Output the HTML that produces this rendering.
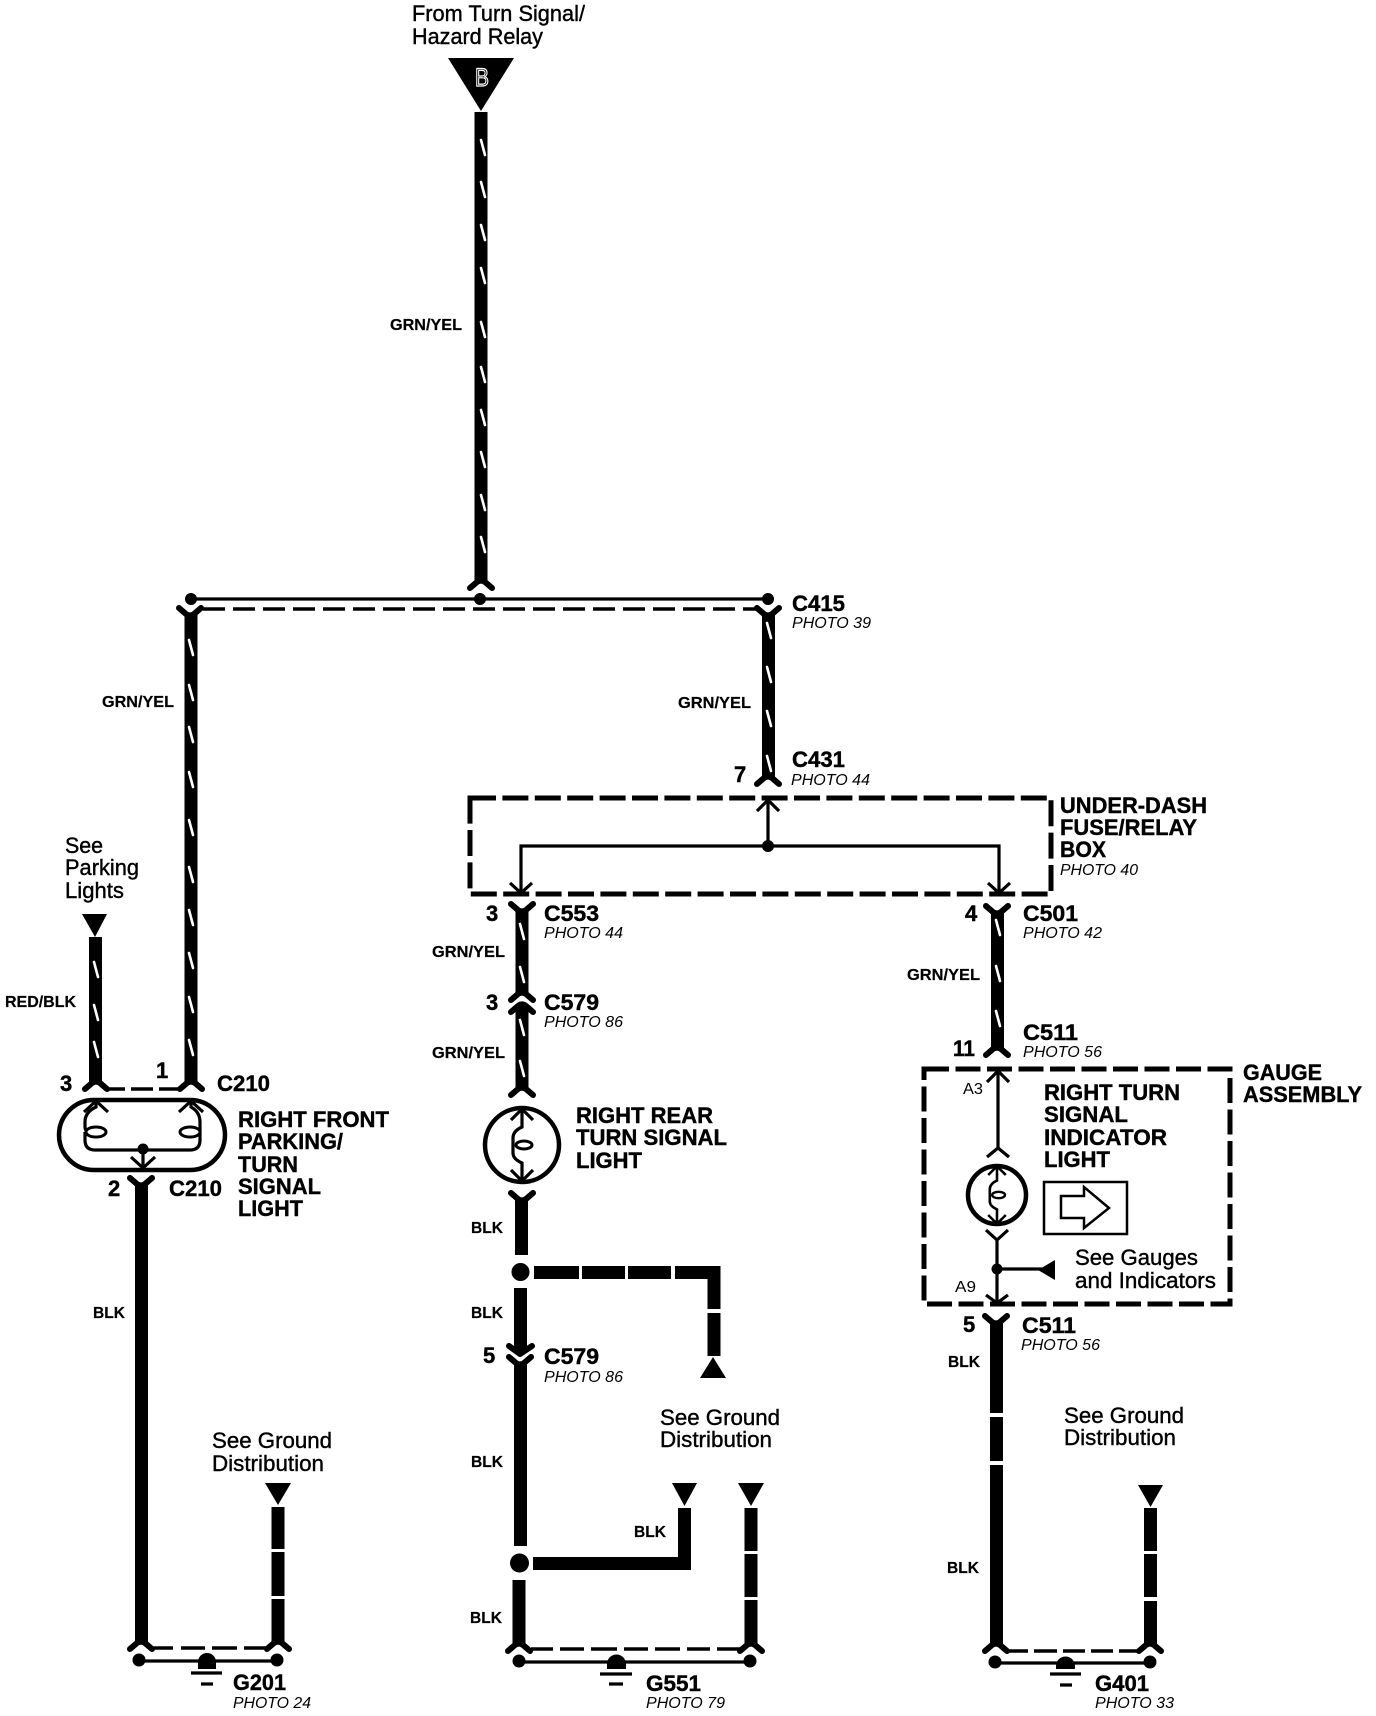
<!DOCTYPE html>
<html>
<head>
<meta charset="utf-8">
<style>
html,body{margin:0;padding:0;background:#fff}
svg{display:block}
text{font-family:"Liberation Sans",sans-serif;fill:#000}
.r{font-size:22px;stroke:#000;stroke-width:.4}
.b{font-size:22px;font-weight:bold;stroke:#000;stroke-width:.4}
.s{font-size:16px;font-weight:bold;stroke:#000;stroke-width:.2}
.p{font-size:16px;font-style:italic}
.w{fill:none;stroke:#000;stroke-width:13}
.t{fill:none;stroke:#000;stroke-width:3.2}
.k{fill:none;stroke:#fff;stroke-width:2.6;stroke-linecap:round}
.y{fill:none;stroke:#000;stroke-width:6;stroke-linecap:round;stroke-linejoin:round}
.d{fill:none;stroke:#000;stroke-width:3.5}
</style>
</head>
<body>
<svg width="1376" height="1716" viewBox="0 0 1376 1716" xmlns="http://www.w3.org/2000/svg">
<defs>
<path id="yd" class="y" d="M-11,6 L-4,0 Q0,-3 4,0 L11,6"/>
<path id="yu" class="y" d="M-11,-6 L-4,0 Q0,3 4,0 L11,-6"/>
<path id="tick" class="k" d="M-2,0 L2,15"/>
<g id="lamp">
<path class="t" d="M0,-36 V-18 Q-9,-14 -9,-7 V8 Q-9,14 0,18 V36"/>
<path class="t" d="M-11,-25 L0,-36 L11,-25 M-11,25 L0,36 L11,25"/>
<ellipse cx="2" cy="0" rx="8" ry="4" fill="none" stroke="#000" stroke-width="3"/>
</g>
</defs>
<rect width="1376" height="1716" fill="#fff"/>

<!-- top feed -->
<text class="r" x="412" y="21" textLength="173" lengthAdjust="spacingAndGlyphs">From Turn Signal/</text>
<text class="r" x="412" y="44" textLength="131" lengthAdjust="spacingAndGlyphs">Hazard Relay</text>
<polygon points="448,58 514,58 481,111"/>
<text x="475" y="86" font-size="25" textLength="14" lengthAdjust="spacingAndGlyphs" style="fill:#000;stroke:#fff;stroke-width:1.2">B</text>
<path class="w" d="M481,112 V582"/>
<use href="#yd" x="481" y="582"/>
<g transform="translate(483,0)">
<use href="#tick" y="140"/><use href="#tick" y="182"/><use href="#tick" y="225"/><use href="#tick" y="268"/><use href="#tick" y="322"/><use href="#tick" y="367"/><use href="#tick" y="410"/><use href="#tick" y="452"/><use href="#tick" y="495"/><use href="#tick" y="537"/>
</g>
<text class="s" x="390" y="330" textLength="72" lengthAdjust="spacingAndGlyphs">GRN/YEL</text>

<!-- splice -->
<path class="t" d="M191,599 H768"/>
<circle cx="191" cy="599" r="6"/><circle cx="480" cy="599" r="6"/><circle cx="768" cy="599" r="6"/>
<path class="d" stroke-dasharray="22 8" d="M203,609 H756"/>
<use href="#yu" x="190" y="614"/><use href="#yu" x="768" y="614"/>

<!-- left wire -->
<path class="w" d="M191,614 V1083"/>
<g transform="translate(191,0)">
<use href="#tick" y="640"/><use href="#tick" y="685"/><use href="#tick" y="727"/><use href="#tick" y="772"/><use href="#tick" y="820"/><use href="#tick" y="867"/><use href="#tick" y="910"/><use href="#tick" y="953"/><use href="#tick" y="997"/><use href="#tick" y="1040"/>
</g>
<text class="s" x="102" y="707" textLength="72" lengthAdjust="spacingAndGlyphs">GRN/YEL</text>

<!-- C415-C431 -->
<path class="w" d="M768.5,614 V778"/>
<g transform="translate(769,0)"><use href="#tick" y="623"/><use href="#tick" y="667"/><use href="#tick" y="711"/><use href="#tick" y="756"/></g>
<use href="#yd" x="768" y="778"/>
<text class="b" x="792" y="611" textLength="53" lengthAdjust="spacingAndGlyphs">C415</text>
<text class="p" x="792" y="628" textLength="79" lengthAdjust="spacingAndGlyphs">PHOTO 39</text>
<text class="s" x="678" y="708" textLength="73" lengthAdjust="spacingAndGlyphs">GRN/YEL</text>
<text class="b" x="792" y="767" textLength="53" lengthAdjust="spacingAndGlyphs">C431</text>
<text class="p" x="791" y="785" textLength="79" lengthAdjust="spacingAndGlyphs">PHOTO 44</text>
<text class="b" x="734" y="782">7</text>

<!-- under-dash box -->
<rect x="470" y="798" width="581" height="96" fill="none" stroke="#000" stroke-width="5" stroke-dasharray="26 6.4"/>
<path class="t" d="M768,800 V846 M521,893 V846 H999 V893"/>
<path class="t" d="M757,811 L768,800 L779,811 M510,883 L521,893 L532,883 M988,883 L999,893 L1010,883"/>
<circle cx="768" cy="846" r="6"/>
<text class="b" x="1060" y="813" textLength="147" lengthAdjust="spacingAndGlyphs">UNDER-DASH</text>
<text class="b" x="1060" y="835" textLength="137" lengthAdjust="spacingAndGlyphs">FUSE/RELAY</text>
<text class="b" x="1060" y="857" textLength="46" lengthAdjust="spacingAndGlyphs">BOX</text>
<text class="p" x="1060" y="875" textLength="78" lengthAdjust="spacingAndGlyphs">PHOTO 40</text>

<!-- parking lights -->
<text class="r" x="65" y="853" textLength="38" lengthAdjust="spacingAndGlyphs">See</text>
<text class="r" x="65" y="875" textLength="74" lengthAdjust="spacingAndGlyphs">Parking</text>
<text class="r" x="65" y="898" textLength="59" lengthAdjust="spacingAndGlyphs">Lights</text>
<polygon points="82,914 107,914 95,937"/>
<path class="w" d="M95.500,937 V1083"/>
<g transform="translate(96,0)"><use href="#tick" y="962"/><use href="#tick" y="1005"/><use href="#tick" y="1042"/></g>
<text class="s" x="5" y="1007" textLength="71" lengthAdjust="spacingAndGlyphs">RED/BLK</text>
<use href="#yd" x="96" y="1083"/><use href="#yd" x="191" y="1083"/>
<path class="d" stroke-width="3" d="M105,1089 H125 M131,1089 H153 M159,1089 H180"/>
<text class="b" x="60" y="1091">3</text>
<text class="b" x="156" y="1078">1</text>
<text class="b" x="217" y="1091" textLength="53" lengthAdjust="spacingAndGlyphs">C210</text>

<!-- front lamp -->
<rect x="59" y="1100" width="166" height="70" rx="35" ry="35" fill="none" stroke="#000" stroke-width="4.500"/>
<path class="t" d="M84,1112 L96,1101 L108,1112 M179,1112 L191,1101 L203,1112"/>
<path class="t" d="M96,1101 V1107 Q85,1112 85,1122 V1127 Q85,1132 92,1132 M85,1132 V1140 Q85,1150 95,1150 H190 Q200,1150 200,1140 V1132 M200,1132 Q200,1126 200,1122 Q200,1112 191,1107 V1101"/>
<ellipse cx="96" cy="1132" rx="10" ry="5" fill="#fff" stroke="#000" stroke-width="3"/>
<ellipse cx="190" cy="1132" rx="10" ry="5" fill="#fff" stroke="#000" stroke-width="3"/>
<circle cx="143" cy="1149" r="5.500"/>
<path class="t" d="M143,1149 V1168 M131,1157 L143,1168 L155,1157"/>
<text class="b" x="238" y="1127" textLength="151" lengthAdjust="spacingAndGlyphs">RIGHT FRONT</text>
<text class="b" x="238" y="1149" textLength="105" lengthAdjust="spacingAndGlyphs">PARKING/</text>
<text class="b" x="238" y="1172" textLength="60" lengthAdjust="spacingAndGlyphs">TURN</text>
<text class="b" x="238" y="1194" textLength="83" lengthAdjust="spacingAndGlyphs">SIGNAL</text>
<text class="b" x="238" y="1216" textLength="65" lengthAdjust="spacingAndGlyphs">LIGHT</text>
<text class="b" x="108" y="1196">2</text>
<text class="b" x="169" y="1196" textLength="53" lengthAdjust="spacingAndGlyphs">C210</text>

<!-- left lower -->
<use href="#yu" x="141" y="1184"/>
<path class="w" d="M141.500,1184 V1643"/>
<use href="#yd" x="141" y="1643"/>
<text class="s" x="93" y="1318" textLength="32" lengthAdjust="spacingAndGlyphs">BLK</text>
<text class="r" x="212" y="1448" textLength="120" lengthAdjust="spacingAndGlyphs">See Ground</text>
<text class="r" x="212" y="1471" textLength="112" lengthAdjust="spacingAndGlyphs">Distribution</text>
<polygon points="265,1483 291,1483 278,1505"/>
<path class="w" d="M278,1507 V1549 M278,1552 V1596 M278,1599 V1643"/>
<use href="#yd" x="278" y="1643"/>
<path class="d" d="M153,1648 H173 M181,1648 H205 M212,1648 H237 M244,1648 H268"/>
<path class="t" d="M139,1661 H277"/>
<circle cx="139" cy="1660" r="6.500"/><circle cx="277" cy="1660" r="6.500"/>
<path d="M198,1669 V1662 A9,9 0 0 1 216,1662 V1669 Z"/>
<path class="t" stroke-width="3.6" d="M191,1673 H222 M201,1684 H213"/>
<text class="b" x="233" y="1690" textLength="53" lengthAdjust="spacingAndGlyphs">G201</text>
<text class="p" x="233" y="1708" textLength="78" lengthAdjust="spacingAndGlyphs">PHOTO 24</text>

<!-- middle column -->
<use href="#yu" x="522" y="910"/>
<path class="w" d="M522,910 V993"/>
<g transform="translate(522,0)"><use href="#tick" y="924"/><use href="#tick" y="967"/><use href="#tick" y="1020"/><use href="#tick" y="1061"/></g>
<use href="#yd" x="522" y="994"/><use href="#yd" x="522" y="1006"/>
<path class="w" d="M522,1006 V1089"/>
<g transform="translate(522,0)"><use href="#tick" y="1020"/><use href="#tick" y="1061"/></g>
<use href="#yd" x="522" y="1089"/>
<text class="b" x="486" y="921">3</text>
<text class="b" x="544" y="921" textLength="55" lengthAdjust="spacingAndGlyphs">C553</text>
<text class="p" x="544" y="938" textLength="79" lengthAdjust="spacingAndGlyphs">PHOTO 44</text>
<text class="s" x="432" y="957" textLength="73" lengthAdjust="spacingAndGlyphs">GRN/YEL</text>
<text class="b" x="486" y="1010">3</text>
<text class="b" x="544" y="1010" textLength="55" lengthAdjust="spacingAndGlyphs">C579</text>
<text class="p" x="544" y="1027" textLength="79" lengthAdjust="spacingAndGlyphs">PHOTO 86</text>
<text class="s" x="432" y="1058" textLength="73" lengthAdjust="spacingAndGlyphs">GRN/YEL</text>
<circle cx="522" cy="1145" r="37" fill="none" stroke="#000" stroke-width="4.500"/>
<use href="#lamp" x="522" y="1145"/>
<text class="b" x="576" y="1123" textLength="137" lengthAdjust="spacingAndGlyphs">RIGHT REAR</text>
<text class="b" x="576" y="1145" textLength="151" lengthAdjust="spacingAndGlyphs">TURN SIGNAL</text>
<text class="b" x="576" y="1168" textLength="66" lengthAdjust="spacingAndGlyphs">LIGHT</text>
<use href="#yu" x="522" y="1199"/>
<path class="w" d="M521.500,1199 V1255"/>
<circle cx="520.500" cy="1272" r="9"/>
<path class="w" d="M520.500,1288 V1352"/>
<path class="y" d="M509,1346 L520,1354 L532,1346"/>
<use href="#yu" x="520" y="1363"/>
<path class="w" d="M520.500,1364 V1546"/>
<circle cx="519.500" cy="1563" r="9.500"/>
<path class="w" d="M519,1580 V1645"/>
<use href="#yd" x="519" y="1645"/>
<text class="s" x="471" y="1233" textLength="32" lengthAdjust="spacingAndGlyphs">BLK</text>
<text class="s" x="471" y="1318" textLength="32" lengthAdjust="spacingAndGlyphs">BLK</text>
<text class="b" x="483" y="1363">5</text>
<text class="b" x="544" y="1364" textLength="55" lengthAdjust="spacingAndGlyphs">C579</text>
<text class="p" x="544" y="1382" textLength="79" lengthAdjust="spacingAndGlyphs">PHOTO 86</text>
<text class="s" x="471" y="1467" textLength="32" lengthAdjust="spacingAndGlyphs">BLK</text>
<text class="s" x="470" y="1623" textLength="32" lengthAdjust="spacingAndGlyphs">BLK</text>
<path class="w" d="M534,1272.500 H579 M582,1272.500 H625 M628,1272.500 H671 M675,1272.500 H714 V1309 M714,1313 V1356"/>
<polygon points="713,1357 726,1378 700,1378"/>
<text class="r" x="660" y="1425" textLength="120" lengthAdjust="spacingAndGlyphs">See Ground</text>
<text class="r" x="660" y="1447" textLength="112" lengthAdjust="spacingAndGlyphs">Distribution</text>
<polygon points="672,1483 697,1483 684.500,1506"/>
<polygon points="738,1483 764,1483 751,1506"/>
<path class="w" d="M533,1563.500 H684.500 V1508"/>
<text class="s" x="634" y="1537" textLength="32" lengthAdjust="spacingAndGlyphs">BLK</text>
<path class="w" d="M751,1508 V1551 M751,1554 V1597 M751,1600 V1645"/>
<use href="#yd" x="751" y="1645"/>
<path class="d" d="M531,1649 H553 M560,1649 H584 M591,1649 H617 M624,1649 H648 M655,1649 H680 M687,1649 H710 M717,1649 H740"/>
<path class="t" d="M519,1662 H750"/>
<circle cx="519" cy="1661" r="6.500"/><circle cx="750" cy="1661" r="6.500"/>
<path d="M607,1669 V1664 A9.500,9.500 0 0 1 626,1664 V1669 Z"/>
<path class="t" stroke-width="3.6" d="M600,1674 H632 M609,1684 H623"/>
<text class="b" x="646" y="1691" textLength="55" lengthAdjust="spacingAndGlyphs">G551</text>
<text class="p" x="646" y="1708" textLength="79" lengthAdjust="spacingAndGlyphs">PHOTO 79</text>

<!-- right column -->
<use href="#yu" x="997" y="912"/>
<path class="w" d="M997.500,912 V1049"/>
<g transform="translate(998,0)"><use href="#tick" y="920"/><use href="#tick" y="966"/><use href="#tick" y="1011"/></g>
<use href="#yd" x="997" y="1049"/>
<text class="b" x="965" y="921">4</text>
<text class="b" x="1023" y="921" textLength="55" lengthAdjust="spacingAndGlyphs">C501</text>
<text class="p" x="1023" y="938" textLength="79" lengthAdjust="spacingAndGlyphs">PHOTO 42</text>
<text class="s" x="907" y="980" textLength="73" lengthAdjust="spacingAndGlyphs">GRN/YEL</text>
<text class="b" x="953" y="1056" textLength="22" lengthAdjust="spacingAndGlyphs">11</text>
<text class="b" x="1023" y="1040" textLength="55" lengthAdjust="spacingAndGlyphs">C511</text>
<text class="p" x="1023" y="1057" textLength="79" lengthAdjust="spacingAndGlyphs">PHOTO 56</text>

<rect x="924" y="1069" width="306" height="235" fill="none" stroke="#000" stroke-width="5" stroke-dasharray="25 6.500"/>
<text class="b" x="1243" y="1080" textLength="79" lengthAdjust="spacingAndGlyphs">GAUGE</text>
<text class="b" x="1243" y="1102" textLength="119" lengthAdjust="spacingAndGlyphs">ASSEMBLY</text>
<text class="p" x="963" y="1094" font-size="15" textLength="20" lengthAdjust="spacingAndGlyphs" style="font-style:normal">A3</text>
<text class="p" x="955" y="1292" font-size="15" textLength="21" lengthAdjust="spacingAndGlyphs" style="font-style:normal">A9</text>
<path class="t" d="M998,1071 V1148 M987,1082 L998,1071 L1009,1082 M987,1157 L998,1148 L1009,1157"/>
<circle cx="997" cy="1195" r="29" fill="none" stroke="#000" stroke-width="4.500"/>
<g transform="translate(997,1195) scale(.8)"><use href="#lamp"/></g>
<path class="t" d="M986,1230 L997,1240 L1008,1230 M997,1240 V1303 M986,1295 L997,1303 L1008,1295 M997,1269 H1042"/>
<circle cx="997" cy="1269" r="5.500"/>
<polygon points="1038,1270 1055,1260 1055,1280"/>
<text class="b" x="1044" y="1100" textLength="136" lengthAdjust="spacingAndGlyphs">RIGHT TURN</text>
<text class="b" x="1044" y="1122" textLength="84" lengthAdjust="spacingAndGlyphs">SIGNAL</text>
<text class="b" x="1044" y="1145" textLength="123" lengthAdjust="spacingAndGlyphs">INDICATOR</text>
<text class="b" x="1044" y="1167" textLength="66" lengthAdjust="spacingAndGlyphs">LIGHT</text>
<rect x="1044" y="1182" width="83" height="52" fill="none" stroke="#000" stroke-width="2.500"/>
<polygon points="1061,1196 1084,1196 1084,1187 1109,1208 1084,1228 1084,1218 1061,1218" fill="none" stroke="#000" stroke-width="2.500"/>
<text class="r" x="1075" y="1265" textLength="123" lengthAdjust="spacingAndGlyphs">See Gauges</text>
<text class="r" x="1075" y="1288" textLength="141" lengthAdjust="spacingAndGlyphs">and Indicators</text>

<use href="#yu" x="996" y="1322"/>
<path class="w" d="M996.500,1322 V1413 M996.500,1417 V1461 M996.500,1465 V1645"/>
<use href="#yd" x="996" y="1645"/>
<text class="b" x="963" y="1332">5</text>
<text class="b" x="1022" y="1333" textLength="54" lengthAdjust="spacingAndGlyphs">C511</text>
<text class="p" x="1021" y="1350" textLength="79" lengthAdjust="spacingAndGlyphs">PHOTO 56</text>
<text class="s" x="948" y="1367" textLength="32" lengthAdjust="spacingAndGlyphs">BLK</text>
<text class="s" x="947" y="1573" textLength="32" lengthAdjust="spacingAndGlyphs">BLK</text>
<text class="r" x="1064" y="1423" textLength="120" lengthAdjust="spacingAndGlyphs">See Ground</text>
<text class="r" x="1064" y="1445" textLength="112" lengthAdjust="spacingAndGlyphs">Distribution</text>
<polygon points="1138,1485 1163,1485 1150.500,1507"/>
<path class="w" d="M1150.500,1508 V1551 M1150.500,1554 V1597 M1150.500,1601 V1645"/>
<use href="#yd" x="1150" y="1645"/>
<path class="d" d="M1008,1651 H1028 M1034,1651 H1057 M1063,1651 H1085 M1091,1651 H1113 M1119,1651 H1140"/>
<path class="t" d="M995,1663 H1150"/>
<circle cx="995" cy="1662" r="6.500"/><circle cx="1150" cy="1662" r="6.500"/>
<path d="M1056,1669 V1666 A9.500,9.500 0 0 1 1075,1666 V1669 Z"/>
<path class="t" stroke-width="3.6" d="M1050,1674 H1081 M1060,1685 H1072"/>
<text class="b" x="1095" y="1691" textLength="54" lengthAdjust="spacingAndGlyphs">G401</text>
<text class="p" x="1095" y="1708" textLength="79" lengthAdjust="spacingAndGlyphs">PHOTO 33</text>
</svg>
</body>
</html>
